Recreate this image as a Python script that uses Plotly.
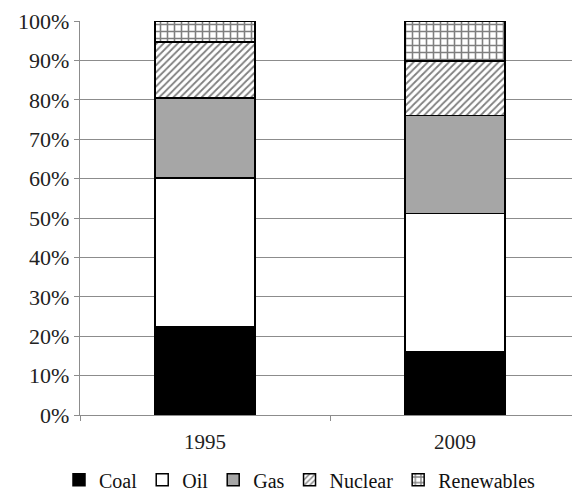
import plotly.graph_objects as go

years = ["1995", "2009"]
coal = [22.4, 16.1]
oil = [37.7, 35.1]
gas = [20.4, 24.8]
nuclear = [14.2, 13.9]
renewables = [5.3, 10.1]

series = [
    ("Coal", coal, "black", ""),
    ("Oil", oil, "white", ""),
    ("Gas", gas, "#a6a6a6", ""),
    ("Nuclear", nuclear, "white", "/"),
    ("Renewables", renewables, "white", "+"),
]

fig = go.Figure()
for name, vals, color, shape in series:
    marker = dict(color=color, line=dict(color="black", width=1.5))
    if shape:
        marker["pattern"] = dict(shape=shape, fgcolor="black", bgcolor="white",
                                 size=7 if shape == "+" else 5,
                                 solidity=0.4 if shape == "+" else 0.35,
                                 fillmode="overlay")
    fig.add_trace(go.Bar(name=name, x=years, y=vals, marker=marker))

FONT = "Liberation Serif"
# page body has an 8px margin, so the figure is sized to fit the 580x497 window
fig.update_layout(
    barmode="stack",
    bargap=0.6,
    width=572, height=489,
    margin=dict(l=72, r=0, t=13, b=82, autoexpand=False),
    plot_bgcolor="white", paper_bgcolor="white",
    font=dict(family=FONT, size=21, color="#222"),
    legend=dict(orientation="h", x=0.44, xanchor="center", y=-0.115, yanchor="top",
                traceorder="normal", font=dict(family=FONT, size=20, color="#111"),
                itemwidth=30, tracegroupgap=0),
    showlegend=True,
)
fig.update_yaxes(range=[0, 100], dtick=10, ticksuffix="%", showgrid=True,
                 gridcolor="#8c8c8c", gridwidth=1.3, showline=True, linecolor="#8c8c8c",
                 linewidth=1.3, ticks="outside", ticklen=5, tickcolor="#8c8c8c",
                 zeroline=False, automargin=False,
                 tickfont=dict(family=FONT, size=22, color="#222"))
fig.update_xaxes(showline=True, linecolor="#8c8c8c", linewidth=1.3, ticks="outside",
                 tickson="boundaries", ticklen=5, tickcolor="#8c8c8c", automargin=False,
                 ticklabelstandoff=8,
                 tickfont=dict(family=FONT, size=21, color="#222"))

fig.write_html("out.html")
